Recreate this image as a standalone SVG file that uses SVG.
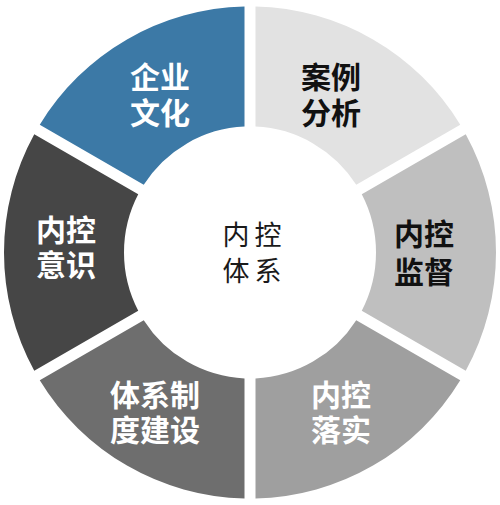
<svg xmlns="http://www.w3.org/2000/svg" width="500" height="505" viewBox="0 0 500 505">
  <style>
    .lbl { font-family: "Noto Sans CJK SC", "Noto Sans", sans-serif; font-weight: 700; font-size: 30px; text-anchor: middle; }
    .w { fill: #ffffff; }
    .k { fill: #111111; }
    .ctr { font-family: "Noto Sans CJK SC", "Noto Sans", sans-serif; font-weight: 400; font-size: 27px; text-anchor: middle; fill: #1a1a1a; }
  </style>
  <rect width="500" height="505" fill="#ffffff"/>
  <g id="seg-culture">
    <path d="M 39.76,124.77 A 246 246 0 0 1 244.5,6.56 L 244.5,126.62 A 126 126 0 0 0 143.74,184.8 Z" fill="#3c79a6"/>
    <text class="lbl w" x="160" y="88">企业<tspan x="160" dy="36">文化</tspan></text>
  </g>
  <g id="seg-case">
    <path d="M 255.5,6.56 A 246 246 0 0 1 460.24,124.77 L 356.26,184.8 A 126 126 0 0 0 255.5,126.62 Z" fill="#e2e2e2"/>
    <text class="lbl k" x="331" y="88">案例<tspan x="331" dy="36">分析</tspan></text>
  </g>
  <g id="seg-supervision">
    <path d="M 465.74,134.29 A 246 246 0 0 1 465.74,370.71 L 361.77,310.67 A 126 126 0 0 0 361.77,194.33 Z" fill="#bfbfbf"/>
    <text class="lbl k" x="424" y="245">内控<tspan x="424" dy="38">监督</tspan></text>
  </g>
  <g id="seg-implementation">
    <path d="M 460.24,380.23 A 246 246 0 0 1 255.5,498.44 L 255.5,378.38 A 126 126 0 0 0 356.26,320.2 Z" fill="#9f9f9f"/>
    <text class="lbl w" x="341" y="406">内控<tspan x="341" dy="35">落实</tspan></text>
  </g>
  <g id="seg-system">
    <path d="M 244.5,498.44 A 246 246 0 0 1 39.76,380.23 L 143.74,320.2 A 126 126 0 0 0 244.5,378.38 Z" fill="#6e6e6e"/>
    <text class="lbl w" x="155" y="406">体系制<tspan x="155" dy="35">度建设</tspan></text>
  </g>
  <g id="seg-awareness">
    <path d="M 34.26,370.71 A 246 246 0 0 1 34.26,134.29 L 138.23,194.33 A 126 126 0 0 0 138.23,310.67 Z" fill="#464646"/>
    <text class="lbl w" x="66" y="241">内控<tspan x="66" dy="35">意识</tspan></text>
  </g>
  <g id="center">
    <text class="ctr" x="236 268" y="245">内控<tspan x="236 268" dy="36">体系</tspan></text>
  </g>
  <g id="connectors"></g>
</svg>
